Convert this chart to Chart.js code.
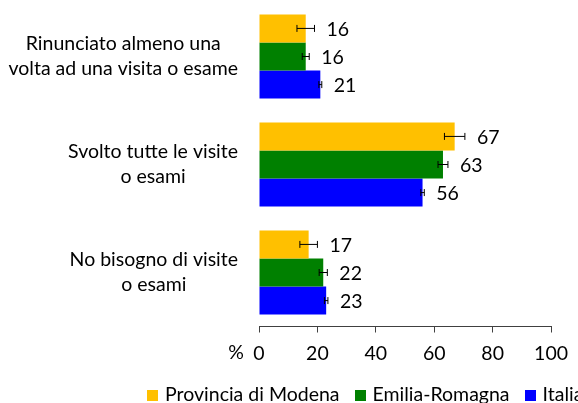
<!DOCTYPE html>
<html>
<head>
<meta charset="utf-8">
<script src="https://cdn.jsdelivr.net/npm/chart.js"></script>
<style>
  html, body { margin: 0; padding: 0; background: #fff; overflow: hidden; }
  #wrap { position: relative; width: 578px; height: 403px; }
  #legend {
    position: absolute; left: 147px; top: 383px; white-space: nowrap;
    font-family: Lato, sans-serif; font-size: 19.5px; color: #000; line-height: 22px;
  }
  #legend span.item { display: inline-block; margin-right: 15px; }
  #legend span.box { display: inline-block; width: 11px; height: 11px; margin-right: 7px; vertical-align: 0px; }
</style>
</head>
<body>
<div id="wrap">
  <canvas id="chart" width="578" height="403"></canvas>
  <div id="legend"></div>
</div>
<script>
// categories (multi-line labels)
const categories = [
    ['Rinunciato almeno una', 'volta ad una visita o esame'],
    ['Svolto tutte le visite', 'o esami'],
    ['No bisogno di visite', 'o esami']
];
const seriesNames = ['Provincia di Modena', 'Emilia-Romagna', 'Italia'];
const seriesColors = ['#FFC000', '#008000', '#0000FF'];

// percentages
const modena = [16, 67, 17];
const emilia = [16, 63, 22];
const italia = [21, 56, 23];

// error bar half-widths
const modenaErr = [3, 3.5, 3];
const emiliaErr = [1.2, 1.7, 1.4];
const italiaErr = [0.5, 0.6, 0.6];

const xTicks = [0, 20, 40, 60, 80, 100];

const FONT = 'Lato, sans-serif';
const FSIZE = 19.5;

// error bars + value labels
const barExtras = {
    id: 'barExtras',
    afterDatasetsDraw(chart) {
        const ctx = chart.ctx;
        const xs = chart.scales.x;
        ctx.save();
        chart.data.datasets.forEach((ds, i) => {
            const meta = chart.getDatasetMeta(i);
            meta.data.forEach((bar, j) => {
                const v = ds.data[j];
                const e = ds.errors[j];
                const x1 = xs.getPixelForValue(v - e);
                const x2 = xs.getPixelForValue(v + e);
                const y = bar.y;
                ctx.strokeStyle = '#000';
                ctx.lineWidth = 1;
                ctx.beginPath();
                ctx.moveTo(x1, y); ctx.lineTo(x2, y);
                ctx.moveTo(x1, y - 3.5); ctx.lineTo(x1, y + 3.5);
                ctx.moveTo(x2, y - 3.5); ctx.lineTo(x2, y + 3.5);
                ctx.stroke();
                ctx.fillStyle = '#000';
                ctx.font = FSIZE + 'px ' + FONT;
                ctx.textAlign = 'left';
                ctx.textBaseline = 'middle';
                ctx.fillText(String(v), x2 + 12, y + 1);
            });
        });
        ctx.restore();
    }
};

// category labels and "%" axis title
const axisText = {
    id: 'axisText',
    afterDraw(chart) {
        const ctx = chart.ctx;
        const ys = chart.scales.y;
        const xs = chart.scales.x;
        ctx.save();
        ctx.fillStyle = '#000';
        ctx.font = FSIZE + 'px ' + FONT;
        ctx.textBaseline = 'middle';
        ctx.textAlign = 'center';
        const blockRight = 238;
        const lineH = 25;
        categories.forEach((lines, i) => {
            const cy = ys.getPixelForTick(i);
            const w = Math.max(...lines.map(l => ctx.measureText(l).width));
            const cx = blockRight - w / 2;
            lines.forEach((l, k) => {
                ctx.fillText(l, cx, cy + (k - (lines.length - 1) / 2) * lineH);
            });
        });
        ctx.textAlign = 'right';
        ctx.textBaseline = 'top';
        ctx.fillText('%', xs.getPixelForValue(0) - 15, xs.top + 6 + 10);
        ctx.restore();
    }
};

const datasets = [modena, emilia, italia].map((d, i) => ({
    label: seriesNames[i],
    data: d,
    errors: [modenaErr, emiliaErr, italiaErr][i],
    backgroundColor: seriesColors[i],
    borderWidth: 0,
    categoryPercentage: 0.78,
    barPercentage: 1.0
}));

new Chart(document.getElementById('chart'), {
    type: 'bar',
    data: { labels: categories, datasets: datasets },
    options: {
        indexAxis: 'y',
        responsive: false,
        animation: false,
        layout: { padding: { top: 2.5, right: 26, left: 0, bottom: 0 } },
        plugins: { legend: { display: false }, tooltip: { enabled: false } },
        scales: {
            x: {
                min: 0, max: 100,
                afterBuildTicks: s => { s.ticks = xTicks.map(v => ({ value: v })); },
                afterFit: s => { s.height = 403 - 326.5; },
                grid: { display: true, drawOnChartArea: false, drawTicks: true, tickLength: 6, color: '#404040' },
                border: { display: true, color: '#404040', width: 1 },
                ticks: { color: '#000', padding: 10, font: { family: FONT, size: FSIZE }, maxRotation: 0 }
            },
            y: {
                afterFit: s => { s.width = 259; },
                grid: { display: false },
                border: { display: false },
                ticks: { display: false }
            }
        }
    },
    plugins: [barExtras, axisText]
});

// html legend
const legend = document.getElementById('legend');
legend.innerHTML = seriesNames.map((n, i) =>
    '<span class="item"><span class="box" style="background:' + seriesColors[i] + '"></span>' + n + '</span>'
).join('');
</script>
</body>
</html>
